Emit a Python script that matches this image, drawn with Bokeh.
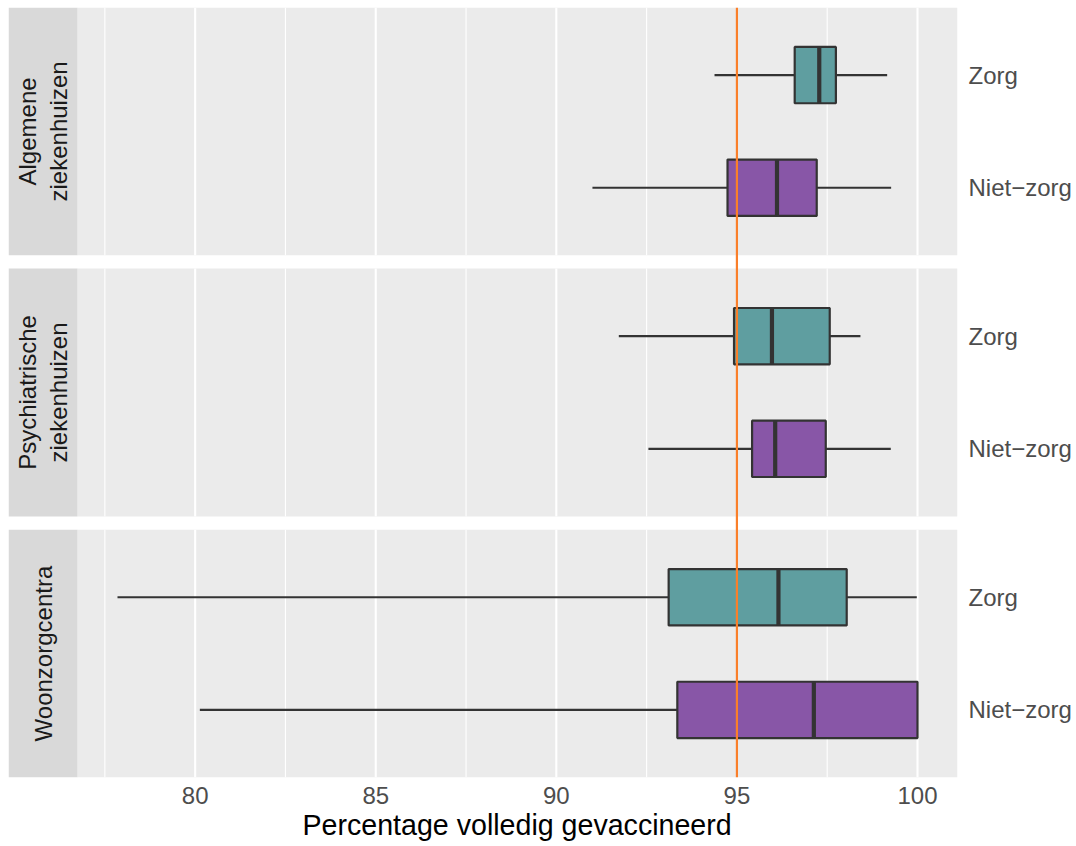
import math
from bokeh.plotting import figure
from bokeh.models import Range1d, FixedTicker, Span, Title
from bokeh.core.properties import value
from bokeh.embed import file_html
from bokeh.resources import INLINE

# ---------------- data ----------------
facets = ["Algemene\nziekenhuizen", "Psychiatrische\nziekenhuizen", "Woonzorgcentra"]
groups = ["Zorg", "Niet\u2212zorg"]
group_colors = ["#5F9EA0", "#8856A7"]
# one row per facet (top to bottom), one entry per group
low = [[94.38, 91.00], [91.73, 92.55], [77.85, 80.13]]
q1 = [[96.60, 94.74], [94.92, 95.42], [93.11, 93.35]]
median = [[97.28, 96.11], [95.97, 96.06], [96.15, 97.13]]
q3 = [[97.74, 97.21], [97.57, 97.46], [98.04, 100.00]]
high = [[99.16, 99.27], [98.42, 99.26], [99.98, 100.00]]
target = 95
x_ticks = [80, 85, 90, 95, 100]
x_title = "Percentage volledig gevaccineerd"

# ---------------- layout ----------------
W, H = 1076, 846
FRAME_L, PANEL_L, PANEL_R, FRAME_T, FRAME_B = 8, 77, 957, 7, 777
TITLE_LEFT = 302
panel_w = PANEL_R - PANEL_L
strip_w = PANEL_L - FRAME_L
frame_h = FRAME_B - FRAME_T
gap_px = 13.2
n_f = len(facets)
panel_units = len(groups) + 0.2          # discrete scale expansion 0.6 each side
unit_px = (frame_h - (n_f - 1) * gap_px) / (n_f * panel_units)
gap = gap_px / unit_px

all_vals = [v for row in low + high for v in row]
dmin, dmax = min(all_vals), max(all_vals)
xlo = dmin - 0.05 * (dmax - dmin)
xhi = dmax + 0.05 * (dmax - dmin)
x_start = xlo - (xhi - xlo) * strip_w / panel_w
y_total = n_f * panel_units + (n_f - 1) * gap

FONT = "Liberation Sans"

p = figure(width=W, height=H, x_range=Range1d(x_start, xhi), y_range=Range1d(0, y_total),
           output_backend="svg", toolbar_location=None, y_axis_location="right",
           min_border_left=FRAME_L, min_border_right=W - PANEL_R,
           min_border_top=FRAME_T, min_border_bottom=H - FRAME_B)
p.background_fill_color = "white"
p.border_fill_color = "white"
p.outline_line_color = None
p.xgrid.visible = False
p.ygrid.visible = False

minor = [t - 2.5 for t in x_ticks if t - 2.5 > xlo] + [t + 2.5 for t in x_ticks[-1:] if t + 2.5 < xhi]

ytick_pos, ytick_lab = [], []
for i, fac in enumerate(facets):
    k = n_f - 1 - i
    base = k * (panel_units + gap)
    top = base + panel_units
    p.quad(left=[xlo], right=[xhi], bottom=[base], top=[top], fill_color="#EBEBEB", line_color=None)
    p.segment(x0=minor, x1=minor, y0=[base] * len(minor), y1=[top] * len(minor),
              line_color="white", line_width=1.1)
    p.segment(x0=x_ticks, x1=x_ticks, y0=[base] * len(x_ticks), y1=[top] * len(x_ticks),
              line_color="white", line_width=2.1)
    p.quad(left=[x_start], right=[xlo], bottom=[base], top=[top], fill_color="#D9D9D9", line_color=None)
    p.text(x=[(x_start + xlo) / 2], y=[(base + top) / 2], text=[fac], angle=math.pi / 2,
           text_align="center", text_baseline="middle", text_font=value(FONT),
           text_font_size="24px", text_color="#1A1A1A", text_line_height=1.15)
    for g, grp in enumerate(groups):
        yc = base + 0.6 + (len(groups) - 1 - g)
        ytick_pos.append(yc)
        ytick_lab.append(grp)
        p.segment(x0=[low[i][g], q3[i][g]], x1=[q1[i][g], high[i][g]], y0=[yc, yc], y1=[yc, yc],
                  line_color="#333333", line_width=2.2)
        p.quad(left=[q1[i][g]], right=[q3[i][g]], bottom=[yc - 0.25], top=[yc + 0.25],
               fill_color=group_colors[g], line_color="#333333", line_width=2.2)
        p.segment(x0=[median[i][g]], x1=[median[i][g]], y0=[yc - 0.25], y1=[yc + 0.25],
                  line_color="#333333", line_width=4.2)

p.add_layout(Span(location=target, dimension="height", line_color="#FA7F2A", line_width=2.2))

xa = p.xaxis[0]
xa.ticker = FixedTicker(ticks=x_ticks)
xa.axis_line_color = None
xa.major_tick_line_color = None
xa.minor_tick_line_color = None
xa.major_tick_out = 0
xa.major_tick_in = 0
xa.minor_tick_out = 0
xa.major_label_text_font = FONT
xa.major_label_text_font_size = "24px"
xa.major_label_text_color = "#4D4D4D"
xa.major_label_standoff = 9

ya = p.yaxis[0]
ya.ticker = FixedTicker(ticks=ytick_pos)
ya.major_label_overrides = {pos: lab for pos, lab in zip(ytick_pos, ytick_lab)}
ya.axis_line_color = None
ya.major_tick_line_color = None
ya.minor_tick_line_color = None
ya.major_tick_out = 0
ya.major_tick_in = 0
ya.minor_tick_out = 0
ya.major_label_text_font = FONT
ya.major_label_text_font_size = "24px"
ya.major_label_text_color = "#4D4D4D"
ya.major_label_standoff = 11

# axis title, centred on the panel area (not on the strip + panel frame)
p.add_layout(Title(text=x_title, align="left", offset=TITLE_LEFT - FRAME_L, standoff=0,
                   text_font=FONT, text_font_size="28.6px", text_font_style="normal",
                   text_color="black"), "below")

open("out.html", "w").write(file_html(p, INLINE))
